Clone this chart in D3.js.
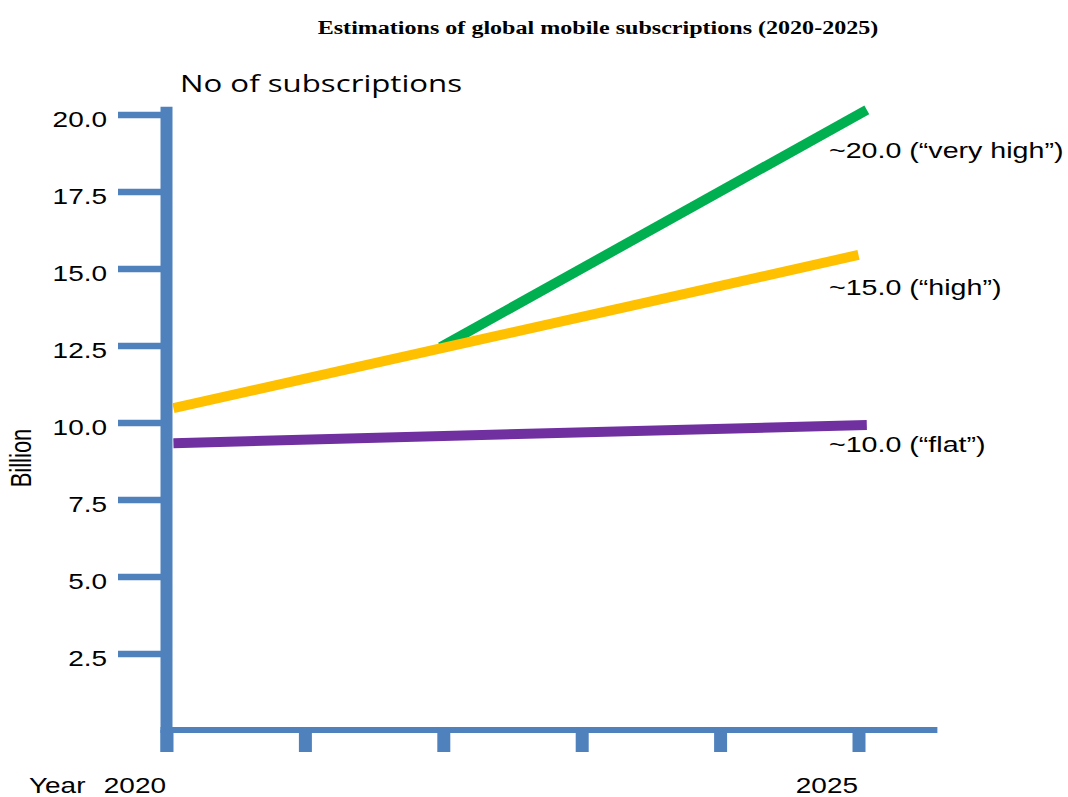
<!DOCTYPE html>
<html><head><meta charset="utf-8">
<script src="https://cdn.jsdelivr.net/npm/d3@7"></script>
<style>body{margin:0;background:#fff}</style></head>
<body><svg id="c" width="1068" height="797"></svg>
<script>
const title = "Estimations of global mobile subscriptions (2020-2025)";
const yTitle = "No of subscriptions";
const yUnit = "Billion";
const xPrefix = "Year";
const yTicks = [2.5, 5, 7.5, 10, 12.5, 15, 17.5, 20];
const xTicks = [2020, 2021, 2022, 2023, 2024, 2025];
const xTickLabels = ["2020", "", "", "", "", "2025"];
const flatX = [2020.05, 2025.06], flatY = [9.33, 9.92];
const highX = [2020.05, 2025.0], highY = [10.47, 15.44];
const veryHighX = [2021.98, 2025.06], veryHighY = [12.45, 20.15];
const endLabels = ["~10.0 (\u201cflat\u201d)", "~15.0 (\u201chigh\u201d)", "~20.0 (\u201cvery high\u201d)"];

const SX = 1.3; // horizontal stretch of the reference text
const blue = "#4F81BD";
const svg = d3.select("#c");
const x = d3.scaleLinear().domain([2020, 2025]).range([166.5, 858.5]);
const y = d3.scaleLinear().domain([0, 20]).range([730.5, 114.5]);

// axes lines
svg.append("line").attr("x1", x(2020)).attr("x2", x(2020)).attr("y1", y(20.25)).attr("y2", 752)
  .attr("stroke", blue).attr("stroke-width", 12);
svg.append("line").attr("x1", x(2020) - 6).attr("x2", x(2025.57)).attr("y1", 730).attr("y2", 730)
  .attr("stroke", blue).attr("stroke-width", 6);

const ya = svg.append("g").attr("transform", "translate(162,0)")
  .call(d3.axisLeft(y).tickValues(yTicks).tickSize(44).tickPadding(11).tickFormat(d3.format(".1f")));
ya.select(".domain").remove();
ya.selectAll("line").attr("stroke", blue).attr("stroke-width", 6.5);
ya.selectAll("text").attr("class", "st").attr("dy", "0.56em").attr("fill", "#000")
  .style("font-family", "'Liberation Sans', Arial, sans-serif").style("font-size", "21.5px");

const xa = svg.append("g").attr("transform", "translate(0,730)")
  .call(d3.axisBottom(x).tickValues(xTicks).tickSize(22).tickFormat((d, i) => xTickLabels[i]));
xa.select(".domain").remove();
xa.selectAll("line").attr("stroke", blue).attr("stroke-width", 13);
xa.selectAll("text").attr("class", "st").attr("y", 63).attr("dy", 0).attr("dx", -1).attr("text-anchor", "end").attr("fill", "#000")
  .style("font-family", "'Liberation Sans', Arial, sans-serif").style("font-size", "21.5px");

svg.append("text").attr("class", "st").attr("x", 29).attr("y", 793).text(xPrefix)
  .style("font-family", "'Liberation Sans', Arial, sans-serif").style("font-size", "21.5px");

// lines
const line = d3.line().x(d => x(d[0])).y(d => y(d[1]));
const series = [
  { xs: veryHighX, ys: veryHighY, c: "#00B050" },
  { xs: highX, ys: highY, c: "#FFC000" },
  { xs: flatX, ys: flatY, c: "#7030A0" }
];
series.forEach(s => {
  svg.append("path").datum(s.xs.map((v, i) => [v, s.ys[i]])).attr("d", line)
    .attr("fill", "none").attr("stroke", s.c).attr("stroke-width", 10);
});

// end labels
const labelVals = [10, 15, 20];
const labelDy = [29.5, 26.5, 43.5];
endLabels.forEach((t, i) => {
  svg.append("text").attr("class", "st").attr("x", 829).attr("y", y(labelVals[i]) + labelDy[i]).text(t)
    .style("font-family", "'Liberation Sans', Arial, sans-serif").style("font-size", "22px");
});

// titles
svg.append("text").attr("class", "st").attr("x", 598).attr("y", 34).attr("text-anchor", "middle").text(title)
  .style("font-family", "'Liberation Serif', 'Times New Roman', serif").style("font-weight", "bold").style("font-size", "18.5px");
svg.append("text").attr("class", "st").attr("x", 180).attr("y", 92).text(yTitle)
  .style("font-family", "'Open Sans', sans-serif").style("font-size", "24px");
svg.append("text").attr("transform", "translate(31,458) scale(" + SX + ",1) rotate(-90)").attr("text-anchor", "middle").text(yUnit)
  .style("font-family", "'Liberation Sans', Arial, sans-serif").style("font-size", "22px");

svg.selectAll("text.st").each(function () {
  const w = this.getComputedTextLength();
  if (w > 0) { this.setAttribute("textLength", w * SX); this.setAttribute("lengthAdjust", "spacingAndGlyphs"); }
});
</script></body></html>
